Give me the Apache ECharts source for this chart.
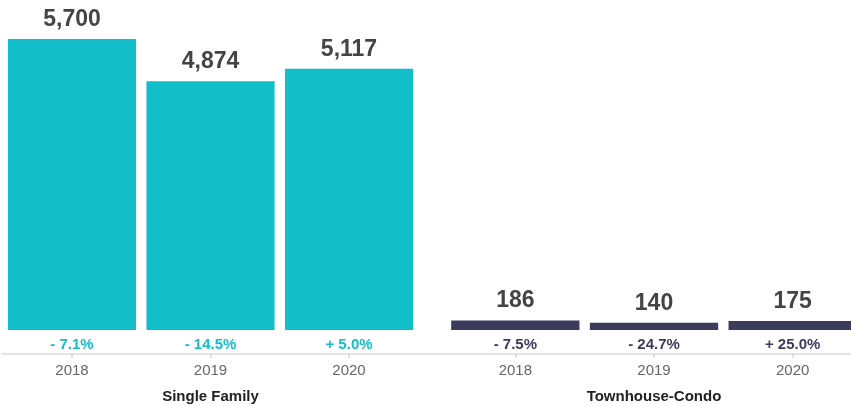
<!DOCTYPE html>
<html>
<head>
<meta charset="utf-8">
<script src="https://cdn.jsdelivr.net/npm/echarts@6/dist/echarts.min.js"></script>
<style>html,body{margin:0;padding:0;background:#fff;}#c{width:851px;height:406px;}</style>
</head>
<body>
<div id="c"></div>
<script>
var years = ['2018', '2019', '2020'];
var groupNames = ['Single Family', 'Townhouse-Condo'];
var singleFamily = [5700, 4874, 5117];
var townhouseCondo = [186, 140, 175];
var singleFamilyPct = ['- 7.1%', '- 14.5%', '+ 5.0%'];
var townhouseCondoPct = ['- 7.5%', '- 24.7%', '+ 25.0%'];
var colors = ['#12bec9', '#3b3b5c'];

var yMax = Math.max.apply(null, singleFamily.concat(townhouseCondo));
var font = 'Liberation Sans, Arial, Helvetica, sans-serif';

var grids = [
  {left: 2.75, width: 415.5, top: 39, bottom: 76, outerBoundsMode: 'none'},
  {left: 446, width: 416, top: 39, bottom: 76, outerBoundsMode: 'none'},
  {left: 2, right: 0, top: 39, bottom: 76, outerBoundsMode: 'none'}
];

function yearAxis(gi, name) {
  return {
    type: 'category', gridIndex: gi, data: years, position: 'bottom', offset: 24,
    axisLine: {show: false, onZero: false},
    axisTick: {show: true, alignWithLabel: true, length: 4, lineStyle: {color: '#d6d6d6', width: 1.5}},
    axisLabel: {color: '#666', fontSize: 15, fontFamily: font, margin: 9},
    name: name, nameLocation: 'middle', nameGap: 35,
    nameTextStyle: {color: '#222', fontSize: 15, fontWeight: 'bold', fontFamily: font}
  };
}
function pctAxis(gi, labels, color) {
  return {
    type: 'category', gridIndex: gi, data: labels, position: 'bottom', offset: 0,
    axisLine: {show: false, onZero: false}, axisTick: {show: false},
    axisLabel: {color: color, fontSize: 15, fontWeight: 'bold', fontFamily: font, margin: 7}
  };
}
function yAxis(gi) {
  return {type: 'value', gridIndex: gi, min: 0, max: yMax, show: false};
}
function barSeries(xi, yi, data, color) {
  return {
    type: 'bar', xAxisIndex: xi, yAxisIndex: yi, data: data,
    barCategoryGap: '7.5%',
    itemStyle: {color: color},
    label: {
      show: true, position: 'top', distance: 8,
      color: '#444', fontSize: 23, fontWeight: 'bold', fontFamily: font,
      formatter: function (p) { return p.value.toLocaleString('en-US'); }
    }
  };
}

var option = {
  animation: false,
  grid: grids,
  xAxis: [
    yearAxis(0, groupNames[0]),
    yearAxis(1, groupNames[1]),
    pctAxis(0, singleFamilyPct, colors[0]),
    pctAxis(1, townhouseCondoPct, colors[1]),
    {
      type: 'category', gridIndex: 2, data: [''], position: 'bottom', offset: 24,
      axisLine: {show: true, onZero: false, lineStyle: {color: '#dcdcdc', width: 1.5}},
      axisTick: {show: false}, axisLabel: {show: false}
    }
  ],
  yAxis: [yAxis(0), yAxis(1), yAxis(2)],
  series: [
    barSeries(0, 0, singleFamily, colors[0]),
    barSeries(1, 1, townhouseCondo, colors[1])
  ]
};

var chart = echarts.init(document.getElementById('c'), null, {renderer: 'canvas'});
chart.setOption(option);
</script>
</body>
</html>
